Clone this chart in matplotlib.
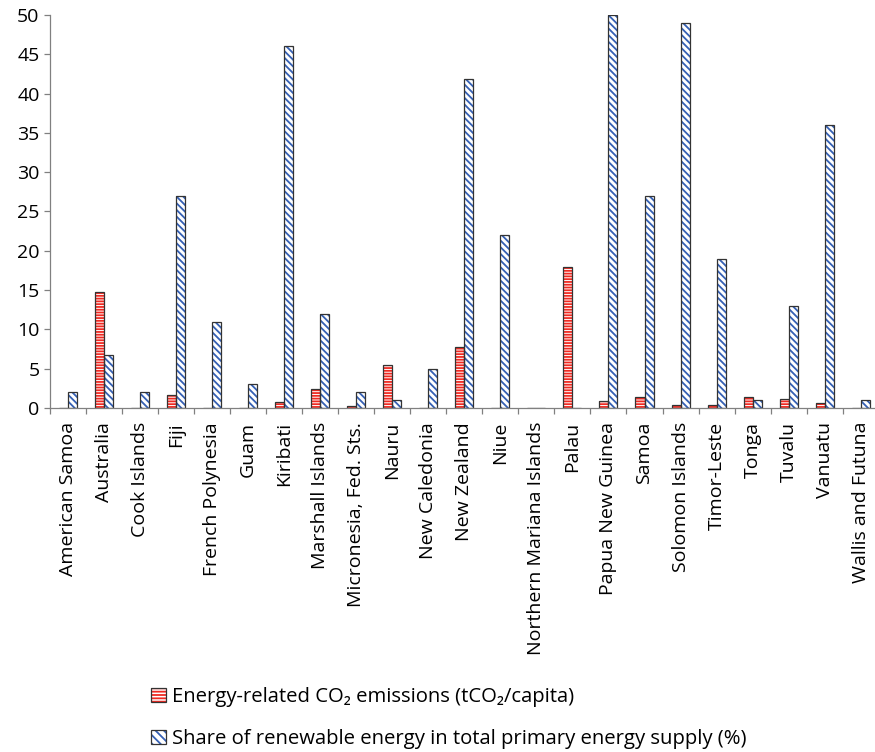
import numpy as np
import matplotlib
matplotlib.use("Agg")
import matplotlib.pyplot as plt
from matplotlib.patches import Patch

# --- Data ---
countries = [
    "American Samoa", "Australia", "Cook Islands", "Fiji", "French Polynesia",
    "Guam", "Kiribati", "Marshall Islands", "Micronesia, Fed. Sts.", "Nauru",
    "New Caledonia", "New Zealand", "Niue", "Northern Mariana Islands", "Palau",
    "Papua New Guinea", "Samoa", "Solomon Islands", "Timor-Leste", "Tonga",
    "Tuvalu", "Vanuatu", "Wallis and Futuna",
]
co2_per_capita = [0, 14.8, 0, 1.6, 0, 0, 0.7, 2.4, 0.2, 5.5, 0, 7.8, 0, 0,
                  17.9, 0.85, 1.35, 0.35, 0.4, 1.4, 1.15, 0.65, 0]
renewable_share = [2, 6.8, 2, 27, 11, 3, 46, 12, 2, 1, 5, 41.8, 22, 0,
                   0, 50, 27, 49, 19, 1, 13, 36, 1]
yticks = [0, 5, 10, 15, 20, 25, 30, 35, 40, 45, 50]

label_co2 = "Energy-related CO\u2082 emissions (tCO\u2082/capita)"
label_re = "Share of renewable energy in total primary energy supply (%)"

# --- Style ---
plt.rcParams["font.family"] = ["Open Sans", "DejaVu Sans"]
plt.rcParams["font.size"] = 14
plt.rcParams["hatch.linewidth"] = 1.3

RED = "#f02a22"
BLUE = "#3560b4"
EDGE = "#333333"
AXIS = "#808080"
BAR_W = 0.25

fig = plt.figure(figsize=(8.75, 7.52), dpi=100)
ax = fig.add_axes([50 / 875, 1 - 408 / 752, 828.7 / 875, 393 / 752])

x = np.arange(len(countries))

# hatched fills first (hatch takes the edge colour), then dark outlines on top
ax.bar(x - BAR_W / 2, co2_per_capita, BAR_W, facecolor="white",
       edgecolor=RED, hatch="------", linewidth=0)
ax.bar(x + BAR_W / 2, renewable_share, BAR_W, facecolor="white",
       edgecolor=BLUE, hatch="\\\\\\\\\\", linewidth=0)
ax.bar(x - BAR_W / 2, co2_per_capita, BAR_W, facecolor="none",
       edgecolor=EDGE, linewidth=0.9)
ax.bar(x + BAR_W / 2, renewable_share, BAR_W, facecolor="none",
       edgecolor=EDGE, linewidth=0.9)

ax.set_xlim(-0.5, len(countries) - 0.5)
ax.set_ylim(0, 50)
ax.set_yticks(yticks)

# tick marks on category boundaries, labels centred on categories
ax.set_xticks(np.arange(-0.5, len(countries)), labels=[])
ax.set_xticks(x, labels=countries, minor=True, rotation=90)
ax.tick_params(axis="x", which="major", direction="out", length=4.5,
               color=AXIS, width=0.9)
ax.tick_params(axis="x", which="minor", length=0, pad=10)
ax.tick_params(axis="y", direction="out", length=4.5, color=AXIS,
               width=0.9, pad=3)

for s in ["top", "right"]:
    ax.spines[s].set_visible(False)
for s in ["left", "bottom"]:
    ax.spines[s].set_color(AXIS)
    ax.spines[s].set_linewidth(0.9)

h_co2 = (Patch(facecolor="white", edgecolor=RED, hatch="-----", linewidth=0),
         Patch(facecolor="none", edgecolor=EDGE, linewidth=0.9))
h_re = (Patch(facecolor="white", edgecolor=BLUE, hatch="\\\\\\\\", linewidth=0),
        Patch(facecolor="none", edgecolor=EDGE, linewidth=0.9))
fig.legend([h_co2, h_re], [label_co2, label_re], loc="upper left",
           bbox_to_anchor=(151 / 875, 1 - 687 / 752), frameon=False,
           fontsize=14.6, handlelength=0.72, handleheight=0.72,
           handletextpad=0.3, labelspacing=1.1, borderpad=0,
           borderaxespad=0)

fig.savefig("out.png", dpi=100)
